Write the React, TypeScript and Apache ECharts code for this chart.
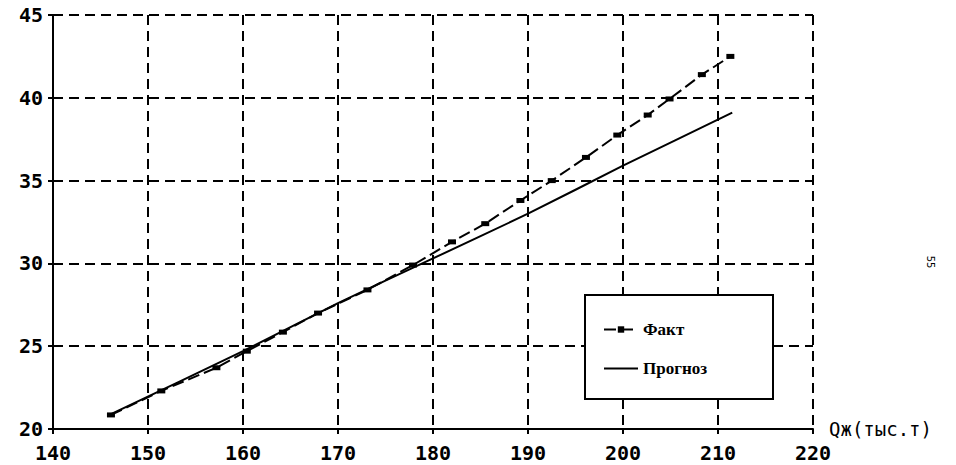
import React, { useEffect, useRef } from "react";
import * as echarts from "echarts";

const xFact = [146.1, 151.4, 157.2, 160.4, 164.2, 167.9, 173.1, 177.9, 182.0, 185.5, 189.2, 192.5, 196.1, 199.4, 202.6, 204.9, 208.3, 211.3];
const yFact = [20.85, 22.3, 23.7, 24.7, 25.85, 27.0, 28.4, 29.9, 31.3, 32.4, 33.8, 35.0, 36.4, 37.75, 38.96, 39.93, 41.4, 42.5];
const xProg = [146.1, 160, 170, 180, 190, 200, 211.5];
const yProg = [20.9, 24.7, 27.6, 30.3, 33.0, 35.9, 39.1];
const seriesNames = ["Факт", "Прогноз"];
const xAxisName = "Qж(тыс.т)";
const pageNumber = "55";

export default function App() {
  const ref = useRef<HTMLDivElement>(null);
  useEffect(() => {
    if (!ref.current) return;
    const chart = echarts.init(ref.current, null, { renderer: "svg" });
    const gridLine = { show: true, lineStyle: { color: "#000", width: 2, type: [10, 6] as any } };
    chart.setOption({
      animation: false,
      backgroundColor: "#fff",
      grid: { left: 53, right: 143, top: 15, bottom: 36 },
      xAxis: {
        type: "value",
        min: 140,
        max: 220,
        interval: 10,
        name: xAxisName,
        nameLocation: "end",
        nameGap: 16,
        nameTextStyle: {
          color: "#000",
          fontFamily: "DejaVu Sans Mono",
          fontSize: 19,
          padding: [16, 0, 0, 0],
        },
        axisLine: { lineStyle: { color: "#000", width: 2 } },
        axisTick: { show: true, length: 5, lineStyle: { color: "#000", width: 2 } },
        axisLabel: {
          color: "#000",
          fontFamily: "DejaVu Sans Mono",
          fontWeight: "bold",
          fontSize: 20,
          margin: 14,
        },
        splitLine: gridLine,
      },
      yAxis: {
        type: "value",
        min: 20,
        max: 45,
        interval: 5,
        axisLine: { show: true, lineStyle: { color: "#000", width: 2 } },
        axisTick: { show: true, length: 5, lineStyle: { color: "#000", width: 2 } },
        axisLabel: {
          color: "#000",
          fontFamily: "DejaVu Sans Mono",
          fontWeight: "bold",
          fontSize: 20,
          margin: 10,
        },
        splitLine: gridLine,
      },
      legend: {
        orient: "vertical",
        left: 598,
        top: 316,
        z: 100,
        itemGap: 22,
        itemWidth: 34,
        itemHeight: 8,
        textStyle: {
          color: "#000",
          fontFamily: "Liberation Serif",
          fontWeight: "bold",
          fontSize: 17,
        },
        data: [
          { name: seriesNames[0] },
          { name: seriesNames[1], itemStyle: { opacity: 0 } },
        ],
      },
      graphic: [
        {
          type: "rect",
          z: 50,
          shape: { x: 585, y: 295, width: 188, height: 104 },
          style: { fill: "#fff", stroke: "#000", lineWidth: 2 },
        },
        {
          type: "text",
          x: 930,
          y: 262,
          rotation: -Math.PI / 2,
          style: {
            text: pageNumber,
            fontSize: 10,
            fontFamily: "DejaVu Sans",
            fill: "#000",
            align: "center",
            verticalAlign: "middle",
          },
        },
      ],
      series: [
        {
          name: seriesNames[0],
          type: "line",
          data: xFact.map((x, i) => [x, yFact[i]]),
          symbol: "rect",
          symbolSize: [8, 5],
          itemStyle: { color: "#000" },
          lineStyle: { color: "#000", width: 2, type: [12, 5] as any },
          z: 5,
        },
        {
          name: seriesNames[1],
          type: "line",
          data: xProg.map((x, i) => [x, yProg[i]]),
          showSymbol: false,
          symbol: "none",
          smooth: 0.2,
          itemStyle: { color: "#000" },
          lineStyle: { color: "#000", width: 2 },
          z: 4,
        },
      ],
    });
    return () => chart.dispose();
  }, []);
  return (
    <div
      ref={ref}
      style={{ position: "fixed", left: 0, top: 0, width: 956, height: 465 }}
    />
  );
}
